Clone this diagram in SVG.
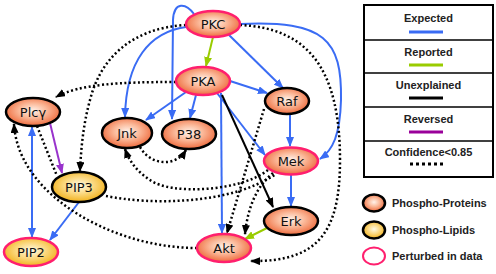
<svg xmlns="http://www.w3.org/2000/svg" width="496" height="274" viewBox="0 0 496 274">
<defs>
<radialGradient id="gOr" cx="50%" cy="45%" r="55%">
<stop offset="0%" stop-color="#fff2ea"/>
<stop offset="45%" stop-color="#fbbb9c"/>
<stop offset="100%" stop-color="#ee6a3c"/>
</radialGradient>
<radialGradient id="gYe" cx="50%" cy="45%" r="55%">
<stop offset="0%" stop-color="#fffbe6"/>
<stop offset="50%" stop-color="#fbd880"/>
<stop offset="100%" stop-color="#f2b21c"/>
</radialGradient>
<marker id="aB" markerUnits="userSpaceOnUse" markerWidth="10" markerHeight="8" refX="9" refY="4" orient="auto-start-reverse"><path d="M0,0 L10,4 L0,8 z" fill="#3a6cf4"/></marker>
<marker id="aG" markerUnits="userSpaceOnUse" markerWidth="10" markerHeight="8" refX="9" refY="4" orient="auto"><path d="M0,0 L10,4 L0,8 z" fill="#99cc00"/></marker>
<marker id="aK" markerUnits="userSpaceOnUse" markerWidth="10" markerHeight="8" refX="9" refY="4" orient="auto"><path d="M0,0 L10,4 L0,8 z" fill="#000"/></marker>
<marker id="aP" markerUnits="userSpaceOnUse" markerWidth="10" markerHeight="8" refX="9" refY="4" orient="auto"><path d="M0,0 L10,4 L0,8 z" fill="#9933cc"/></marker>
</defs>
<style>
.e{fill:none;stroke-width:2}
.bl{stroke:#3a6cf4;marker-end:url(#aB)}
.gr{stroke:#99cc00;marker-end:url(#aG)}
.bk{stroke:#000;marker-end:url(#aK)}
.pu{stroke:#9933cc;marker-end:url(#aP)}
.dt{stroke:#000;stroke-width:2.5;stroke-dasharray:2 2.5}
.da{marker-end:url(#aK)}
.np{fill:url(#gOr);stroke:#000;stroke-width:2.5}
.npp{fill:url(#gOr);stroke:#ff1f6e;stroke-width:2.5}
.ny{fill:url(#gYe);stroke:#000;stroke-width:2.5}
.nyp{fill:url(#gYe);stroke:#ff1f6e;stroke-width:2.5}
.t{font-family:"DejaVu Sans",sans-serif;font-size:13px;fill:#111;text-anchor:middle}
.lg{font-family:"Liberation Sans",Arial,sans-serif;font-size:11px;font-weight:bold;fill:#222}
.lc{text-anchor:middle}
</style>
<rect width="496" height="274" fill="#fff"/>
<g id="connectors">
<path class="e bl" d="M186,27 C150,32 126,60 125,117"/>
<path class="e bl" d="M194,14 C186,3 174,1 173,20 L172,119"/>
<path class="e bl" d="M229,35 L283,88"/>
<path class="e bl" d="M240,24 C325,20 342,40 341,100 C340,135 333,150 320,159"/>
<path class="e bl" d="M230,81 L267,93"/>
<path class="e bl" d="M186,92 L146,120"/>
<path class="e bl" d="M196,95 L190,118"/>
<path class="e bl" d="M221,93 L222,233"/>
<path class="e bl" d="M217,93 L265,155"/>
<path class="e bl" d="M290,114 L290,146"/>
<path class="e bl" d="M291,175 L291,206"/>
<path class="e bl" style="marker-start:url(#aB)" d="M32,127 L32,237"/>
<path class="e bl" d="M79,202 L50,240"/>
<path class="e gr" d="M213,37 L206,66"/>
<path class="e gr" d="M267,228 L245,239"/>
<path class="e bk" d="M222,95 L273,207"/>
<path class="e pu" d="M50,123 L62,173"/>
<path class="e dt da" d="M176,82 C120,82 80,84 56,97"/>
<path class="e dt da" d="M186,25 C130,28 100,60 90,100 C83,125 81,150 80,171"/>
<path class="e dt da" d="M240,25 C305,28 340,65 340,160 C340,230 320,262 251,261"/>
<path class="e dt da" d="M264,109 L227,233"/>
<path class="e dt da" d="M273,173 C258,185 248,205 245,234"/>
<path class="e dt da" d="M140,147 C150,165 175,168 186,150"/>
<path class="e dt da" d="M268,170 C240,192 170,195 150,180 C138,172 130,163 125,149"/>
<path class="e dt" d="M106,196 C150,205 230,205 276,174"/>
<path class="e dt da" d="M197,248 C130,248 60,215 30,170 C20,155 15,140 14,124"/>
<path class="e dt" d="M37,126 L57,176"/>
</g>
<g id="PKC"><ellipse class="npp" cx="213" cy="24" rx="27" ry="13"/><text class="t" x="213" y="29">PKC</text></g>
<g id="PKA"><ellipse class="npp" cx="203" cy="81" rx="27" ry="14"/><text class="t" x="203" y="86">PKA</text></g>
<g id="Raf"><ellipse class="np" cx="287" cy="101" rx="22" ry="13"/><text class="t" x="287" y="106">Raf</text></g>
<g id="Jnk"><ellipse class="np" cx="127" cy="133" rx="25" ry="15"/><text class="t" x="127" y="138">Jnk</text></g>
<g id="P38"><ellipse class="np" cx="189" cy="134" rx="27" ry="15"/><text class="t" x="189" y="139">P38</text></g>
<g id="Plcg"><ellipse class="np" cx="33" cy="112" rx="27" ry="14"/><text class="t" x="33" y="117">Plcγ</text></g>
<g id="PIP3"><ellipse class="ny" cx="79" cy="187" rx="27" ry="15"/><text class="t" x="79" y="192">PIP3</text></g>
<g id="PIP2"><ellipse class="nyp" cx="31" cy="252" rx="27" ry="14"/><text class="t" x="31" y="257">PIP2</text></g>
<g id="Mek"><ellipse class="npp" cx="291" cy="161" rx="27" ry="13.5"/><text class="t" x="291" y="166">Mek</text></g>
<g id="Erk"><ellipse class="np" cx="291" cy="221" rx="27" ry="14"/><text class="t" x="291" y="226">Erk</text></g>
<g id="Akt"><ellipse class="npp" cx="224" cy="248" rx="27" ry="14"/><text class="t" x="224" y="253">Akt</text></g>
<g id="legend">
<rect x="364" y="5" width="129" height="172" fill="#fff" stroke="#000" stroke-width="2"/>
<g stroke="#000" stroke-width="1.5"><line x1="364" y1="40" x2="493" y2="40"/><line x1="364" y1="73" x2="493" y2="73"/><line x1="364" y1="107" x2="493" y2="107"/><line x1="364" y1="141" x2="493" y2="141"/></g>
<text class="lg lc" x="428.5" y="22">Expected</text>
<line x1="409" y1="32" x2="443" y2="32" stroke="#3a6cf4" stroke-width="3"/>
<text class="lg lc" x="428.5" y="56">Reported</text>
<line x1="409" y1="65" x2="443" y2="65" stroke="#99cc00" stroke-width="3"/>
<text class="lg lc" x="428.5" y="89">Unexplained</text>
<line x1="409" y1="98" x2="443" y2="98" stroke="#000" stroke-width="3"/>
<text class="lg lc" x="428.5" y="123">Reversed</text>
<line x1="409" y1="132" x2="443" y2="132" stroke="#990099" stroke-width="3"/>
<text class="lg lc" x="428.5" y="156">Confidence&lt;0.85</text>
<line x1="410" y1="164" x2="443" y2="164" stroke="#000" stroke-width="3" stroke-dasharray="3 3"/>
<ellipse class="np" cx="374" cy="203" rx="11" ry="8.5"/>
<text class="lg" x="392" y="207">Phospho-Proteins</text>
<ellipse class="ny" cx="374" cy="230" rx="11" ry="8.5"/>
<text class="lg" x="392" y="234">Phospho-Lipids</text>
<ellipse cx="374" cy="256" rx="11" ry="8.5" fill="#fff" stroke="#ff1f6e" stroke-width="2"/>
<text class="lg" x="392" y="260">Perturbed in data</text>
</g>
</svg>
